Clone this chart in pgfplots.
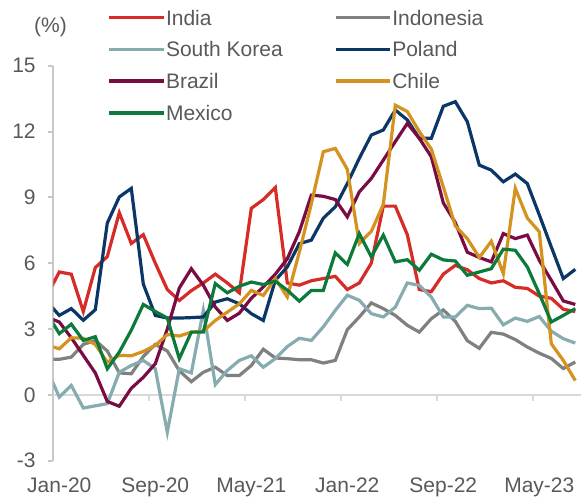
\documentclass[border=0pt]{standalone}
\usepackage{pgfplots}
\pgfplotsset{compat=1.18}
\usepackage{fontspec}
\setmainfont{Liberation Sans}

\definecolor{cIndia}{HTML}{D62B27}
\definecolor{cIndonesia}{HTML}{808080}
\definecolor{cKorea}{HTML}{86ACB0}
\definecolor{cPoland}{HTML}{0A3766}
\definecolor{cBrazil}{HTML}{7A0C44}
\definecolor{cChile}{HTML}{D4921F}
\definecolor{cMexico}{HTML}{0B7A3B}
\definecolor{labelgray}{HTML}{595959}
\definecolor{axisgray}{HTML}{C8C8C8}
\definecolor{zerogray}{HTML}{D9D9D9}

\begin{document}
\begin{tikzpicture}[font=\fontsize{10.5bp}{12.6bp}\selectfont]
\path[use as bounding box] (-26.65bp,-19.65bp) rectangle (266.85bp,230.35bp);
\begin{axis}[
  at={(0,0)}, anchor=south west,
  scale only axis, width=264bp, height=197.5bp,
  xmin=-0.5, xmax=43.5, ymin=-3, ymax=15,
  axis x line*=bottom, axis y line*=left,
  x axis line style={draw=none},
  y axis line style={draw=axisgray, line width=1bp, -},
  xtick={0,8,16,24,32,40},
  xticklabels={Jan-20,Sep-20,May-21,Jan-22,Sep-22,May-23},
  x tick style={draw=none},
  xticklabel style={yshift=-2bp},
  ytick={-3,0,3,6,9,12,15},
  yticklabel style={xshift=-2.5bp},
  y tick style={draw=axisgray, line width=1bp},
  tick align=outside, major tick length=2.8bp,
  tick label style={font=\fontsize{10.5bp}{12.6bp}\selectfont, text=labelgray},
  /pgf/number format/assume math mode=true,
  clip mode=individual,
  every axis plot/.append style={line width=1.6bp, mark=none},
  legend columns=2,
  legend cell align=left,
  legend image code/.code={%
    \draw[#1, line width=1.75bp] (0bp,0bp) -- (27.3bp,0bp);
    \path (27.5bp,0bp);},
  legend style={at={(rel axis cs:0.103,1.1405)}, anchor=north west,
    draw=none, fill=none, inner sep=0pt, outer sep=0pt,
    column sep=0pt, row sep=8.35bp, text=labelgray,
    font=\fontsize{10.5bp}{12.6bp}\selectfont,
    nodes={inner sep=0pt, text height=7.5bp, text depth=0bp}},
]
% zero line with tick marks between category groups
\draw[zerogray, line width=1bp] (axis cs:-0.5,0) -- (axis cs:43.5,0);
\draw[zerogray, line width=1bp]
  (axis cs:7.5,0) -- ([yshift=-3.3bp]axis cs:7.5,0)
  (axis cs:15.5,0) -- ([yshift=-3.3bp]axis cs:15.5,0)
  (axis cs:23.5,0) -- ([yshift=-3.3bp]axis cs:23.5,0)
  (axis cs:31.5,0) -- ([yshift=-3.3bp]axis cs:31.5,0)
  (axis cs:39.5,0) -- ([yshift=-3.3bp]axis cs:39.5,0);

% India
\addplot[cIndia] coordinates {
(-1,4.55)(0,5.6)(1,5.5)(2,3.8)(3,5.8)(4,6.3)(5,8.3)(6,6.9)(7,7.3)(8,6.0)(9,4.8)
(10,4.3)(11,4.75)(12,5.1)(13,5.5)(14,5.1)(15,4.65)(16,8.5)(17,8.9)(18,9.45)(19,5.1)
(20,5.0)(21,5.2)(22,5.3)(23,5.4)(24,4.8)(25,5.1)(26,6.0)(27,8.6)(28,8.6)(29,7.3)
(30,4.8)(31,4.7)(32,5.5)(33,5.9)(34,5.7)(35,5.3)(36,5.1)(37,5.2)(38,4.9)(39,4.85)
(40,4.5)(41,4.4)(42,3.9)(43,3.8)};
\addlegendentry{\makebox[83.95bp][l]{India}}

% Indonesia
\addplot[cIndonesia] coordinates {
(-1,1.62)(0,1.62)(1,1.72)(2,2.3)(3,2.48)(4,2.0)(5,1.0)(6,0.96)(7,1.75)(8,2.3)(9,2.0)
(10,1.1)(11,0.6)(12,1.03)(13,1.26)(14,0.88)(15,0.88)(16,1.34)(17,2.08)(18,1.68)(19,1.65)
(20,1.6)(21,1.6)(22,1.45)(23,1.57)(24,2.97)(25,3.55)(26,4.19)(27,3.93)(28,3.62)(29,3.17)
(30,2.86)(31,3.47)(32,3.87)(33,3.35)(34,2.47)(35,2.12)(36,2.85)(37,2.77)(38,2.52)(39,2.18)
(40,1.9)(41,1.66)(42,1.2)(43,1.5)};
\addlegendentry{Indonesia}

% South Korea
\addplot[cKorea] coordinates {
(-1,1.14)(0,-0.1)(1,0.43)(2,-0.6)(3,-0.5)(4,-0.4)(5,1.03)(6,1.34)(7,1.57)(8,1.19)(9,-1.7)
(10,1.19)(11,1.0)(12,3.85)(13,0.47)(14,1.11)(15,1.57)(16,1.78)(17,1.26)(18,1.65)(19,2.2)
(20,2.58)(21,2.48)(22,3.1)(23,3.85)(24,4.54)(25,4.31)(26,3.70)(27,3.55)(28,4.0)(29,5.1)
(30,4.99)(31,4.46)(32,3.55)(33,3.55)(34,4.08)(35,3.93)(36,3.95)(37,3.19)(38,3.5)(39,3.35)
(40,3.57)(41,2.9)(42,2.56)(43,2.36)};
\addlegendentry{\makebox[83.95bp][l]{South Korea}}

% Poland
\addplot[cPoland] coordinates {
(-1,4.24)(0,3.62)(1,3.93)(2,3.4)(3,3.88)(4,7.83)(5,9.02)(6,9.41)(7,5.05)(8,3.62)(9,3.5)
(10,3.5)(11,3.52)(12,3.55)(13,4.23)(14,4.38)(15,4.15)(16,3.7)(17,3.39)(18,5.22)(19,5.83)
(20,6.89)(21,7.05)(22,8.05)(23,8.57)(24,9.63)(25,10.78)(26,11.84)(27,12.07)(28,12.98)(29,12.53)
(30,11.69)(31,11.69)(32,13.15)(33,13.36)(34,12.45)(35,10.47)(36,10.24)(37,9.71)(38,10.06)(39,9.63)
(40,8.2)(41,6.74)(42,5.3)(43,5.72)};
\addlegendentry{Poland}

% Brazil
\addplot[cBrazil] coordinates {
(-1,3.54)(0,3.32)(1,2.6)(2,1.8)(3,1.0)(4,-0.3)(5,-0.52)(6,0.3)(7,0.8)(8,1.42)(9,3.0)
(10,4.87)(11,5.75)(12,5.0)(13,4.0)(14,3.39)(15,3.72)(16,4.4)(17,4.92)(18,5.5)(19,6.2)
(20,7.43)(21,9.1)(22,9.05)(23,8.9)(24,8.11)(25,9.25)(26,9.86)(27,10.7)(28,11.54)(29,12.37)
(30,11.69)(31,10.85)(32,8.75)(33,7.85)(34,6.5)(35,6.26)(36,6.06)(37,7.35)(38,7.12)(39,7.28)
(40,6.13)(41,5.22)(42,4.28)(43,4.12)};
\addlegendentry{\makebox[83.95bp][l]{Brazil}}

% Chile
\addplot[cChile] coordinates {
(-1,2.26)(0,2.1)(1,2.6)(2,2.58)(3,2.3)(4,1.49)(5,1.8)(6,1.78)(7,1.98)(8,2.25)(9,2.75)
(10,2.68)(11,2.86)(12,2.9)(13,3.39)(14,3.77)(15,4.15)(16,4.76)(17,4.53)(18,5.3)(19,4.46)
(20,6.5)(21,8.7)(22,11.08)(23,11.23)(24,10.28)(25,6.9)(26,7.45)(27,8.68)(28,13.2)(29,12.91)
(30,12.0)(31,11.2)(32,9.48)(33,7.7)(34,7.12)(35,6.26)(36,7.0)(37,5.52)(38,9.41)(39,8.06)
(40,7.43)(41,2.33)(42,1.57)(43,0.65)};
\addlegendentry{Chile}

% Mexico
\addplot[cMexico] coordinates {
(-1,3.68)(0,2.79)(1,3.22)(2,2.48)(3,2.65)(4,1.19)(5,1.95)(6,2.95)(7,4.12)(8,3.8)(9,3.5)
(10,1.65)(11,2.86)(12,2.86)(13,5.07)(14,4.65)(15,4.95)(16,5.14)(17,5.03)(18,5.18)(19,4.77)
(20,4.27)(21,4.76)(22,4.76)(23,6.47)(24,5.94)(25,7.35)(26,6.29)(27,7.28)(28,6.06)(29,6.16)
(30,5.68)(31,6.41)(32,6.15)(33,6.1)(34,5.45)(35,5.6)(36,5.75)(37,6.64)(38,6.59)(39,5.83)
(40,4.61)(41,3.32)(42,3.62)(43,3.93)};
\addlegendentry{\makebox[83.95bp][l]{Mexico}}

\node[text=labelgray, anchor=center] at (rel axis cs:-0.0053,1.098) {(\%)};
\end{axis}
\end{tikzpicture}
\end{document}
